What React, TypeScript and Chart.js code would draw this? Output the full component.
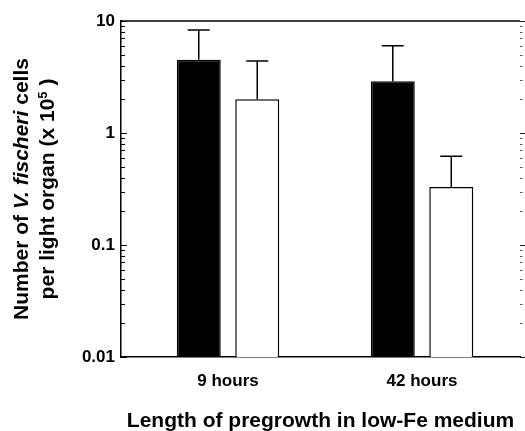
import React, { useEffect, useRef } from 'react';
import { Chart, registerables } from 'chart.js';

Chart.register(...registerables);

// ---- data ----
const categories = ['9 hours', '42 hours'];
const blackValues = [4.5, 2.9];
const blackErrorTops = [8.3, 6.0];
const whiteValues = [2.0, 0.33];
const whiteErrorTops = [4.4, 0.62];
const yTickValues = [0.01, 0.1, 1, 10];
const yTickLabels = ['0.01', '0.1', '1', '10'];
const xTitle = 'Length of pregrowth in low-Fe medium';
const yTitleLine1 = [
  { text: 'Number of ', italic: false, sup: false },
  { text: 'V. fischeri', italic: true, sup: false },
  { text: ' cells', italic: false, sup: false },
];
const yTitleLine2 = [
  { text: 'per light organ (x 10', italic: false, sup: false },
  { text: '5', italic: false, sup: true },
  { text: ' )', italic: false, sup: false },
];

const FONT = '"Liberation Sans", Arial, Helvetica, sans-serif';

function segFont(s: any) {
  const size = s.sup ? 13 : 21;
  return `${s.italic ? 'italic ' : ''}bold ${size}px ${FONT}`;
}

function drawRotatedLine(ctx: CanvasRenderingContext2D, segs: any[], baselineX: number, cy: number) {
  ctx.save();
  let total = 0;
  const widths = segs.map((s) => {
    ctx.font = segFont(s);
    const w = ctx.measureText(s.text).width;
    total += w;
    return w;
  });
  ctx.translate(baselineX, cy);
  ctx.rotate(-Math.PI / 2);
  ctx.fillStyle = '#000';
  ctx.textBaseline = 'alphabetic';
  ctx.textAlign = 'left';
  let x = -total / 2;
  segs.forEach((s, i) => {
    ctx.font = segFont(s);
    ctx.fillText(s.text, x, s.sup ? -7 : 0);
    x += widths[i];
  });
  ctx.restore();
}

const framePlugin = {
  id: 'frameAndErrors',
  afterDatasetsDraw(chart: any) {
    const { ctx } = chart;
    const y = chart.scales.y;
    ctx.save();
    ctx.strokeStyle = '#000';
    ctx.lineWidth = 1.5;
    chart.data.datasets.forEach((ds: any, di: number) => {
      const meta = chart.getDatasetMeta(di);
      meta.data.forEach((bar: any, i: number) => {
        const top = y.getPixelForValue(ds.errorTops[i]);
        const half = bar.width / 4;
        ctx.beginPath();
        ctx.moveTo(bar.x, bar.y);
        ctx.lineTo(bar.x, top);
        ctx.moveTo(bar.x - half, top);
        ctx.lineTo(bar.x + half, top);
        ctx.stroke();
      });
    });
    ctx.restore();
  },
  afterDraw(chart: any) {
    const { ctx, chartArea: a } = chart;
    const y = chart.scales.y;
    ctx.save();
    ctx.strokeStyle = '#000';
    ctx.lineWidth = 1.5;
    ctx.beginPath();
    ctx.moveTo(a.left - 0.75, a.top);
    ctx.lineTo(a.right, a.top);
    ctx.stroke();
    for (let e = -2; e <= 1; e++) {
      for (let m = 1; m <= 9; m++) {
        const v = m * Math.pow(10, e);
        if (v > 10.0001) break;
        const py = Math.round(y.getPixelForValue(v)) + 0.5;
        const major = m === 1;
        ctx.strokeStyle = '#000';
        ctx.lineWidth = 1;
        ctx.beginPath();
        ctx.moveTo(a.left, py);
        ctx.lineTo(a.left + (major ? 6 : 4), py);
        ctx.stroke();
        ctx.strokeStyle = major ? '#222' : '#555';
        ctx.beginPath();
        ctx.moveTo(a.right, py);
        ctx.lineTo(a.right + (major ? 5 : 2.5), py);
        ctx.stroke();
      }
    }
    ctx.restore();
    const cy = (a.top + a.bottom) / 2;
    drawRotatedLine(ctx, yTitleLine1, 28, cy);
    drawRotatedLine(ctx, yTitleLine2, 54, cy);
  },
};

export default function App() {
  const ref = useRef<HTMLCanvasElement>(null);
  useEffect(() => {
    if (!ref.current) return;
    const chart = new Chart(ref.current, {
      type: 'bar',
      data: {
        datasets: [
          {
            label: 'black',
            data: blackValues.map((v, i) => ({ x: i, y: v })),
            backgroundColor: '#000',
            borderColor: '#000',
            borderWidth: 1.5,
            errorTops: blackErrorTops,
          } as any,
          {
            label: 'white',
            data: whiteValues.map((v, i) => ({ x: i, y: v })),
            backgroundColor: '#fff',
            borderColor: '#000',
            borderWidth: 1.5,
            errorTops: whiteErrorTops,
          } as any,
        ],
      },
      options: {
        responsive: false,
        animation: false,
        categoryPercentage: 0.603,
        barPercentage: 0.752,
        layout: { padding: { top: 21, right: 5, left: 0, bottom: 0 } },
        plugins: { legend: { display: false }, tooltip: { enabled: false } },
        scales: {
          x: {
            type: 'linear',
            min: -0.5515,
            max: 1.505,
            offset: false,
            grid: { display: false, drawTicks: false },
            border: { display: true, color: '#000', width: 1.5 },
            afterBuildTicks: (scale: any) => {
              scale.ticks = categories.map((_, i) => ({ value: i }));
            },
            afterFit: (scale: any) => {
              scale.height = 74;
            },
            ticks: {
              color: '#000',
              padding: 14,
              autoSkip: false,
              maxRotation: 0,
              font: { family: FONT, size: 17, weight: 'bold' },
              callback: (v: any) => categories[Math.round(v)] ?? '',
            },
            title: {
              display: true,
              text: xTitle,
              color: '#000',
              padding: 0,
              font: { family: FONT, size: 21, weight: 'bold', lineHeight: 0.95 },
            },
          },
          y: {
            type: 'logarithmic',
            min: 0.01,
            max: 10,
            grid: { display: false, drawTicks: false },
            border: { display: true, color: '#000', width: 1.5 },
            afterBuildTicks: (scale: any) => {
              scale.ticks = yTickValues.map((v) => ({ value: v, major: true }));
            },
            afterFit: (scale: any) => {
              scale.width = 121;
            },
            ticks: {
              color: '#000',
              padding: 6,
              autoSkip: false,
              font: { family: FONT, size: 17, weight: 'bold' },
              callback: (v: any) => {
                const idx = yTickValues.findIndex((t) => Math.abs(t - v) / t < 1e-6);
                return idx >= 0 ? yTickLabels[idx] : '';
              },
            },
          },
        },
      } as any,
      plugins: [framePlugin as any],
    });
    return () => chart.destroy();
  }, []);
  return (
    <div style={{ position: 'absolute', left: 0, top: 0, width: 525, height: 431, background: '#fff' }}>
      <canvas ref={ref} width={525} height={431} style={{ display: 'block' }} />
    </div>
  );
}
